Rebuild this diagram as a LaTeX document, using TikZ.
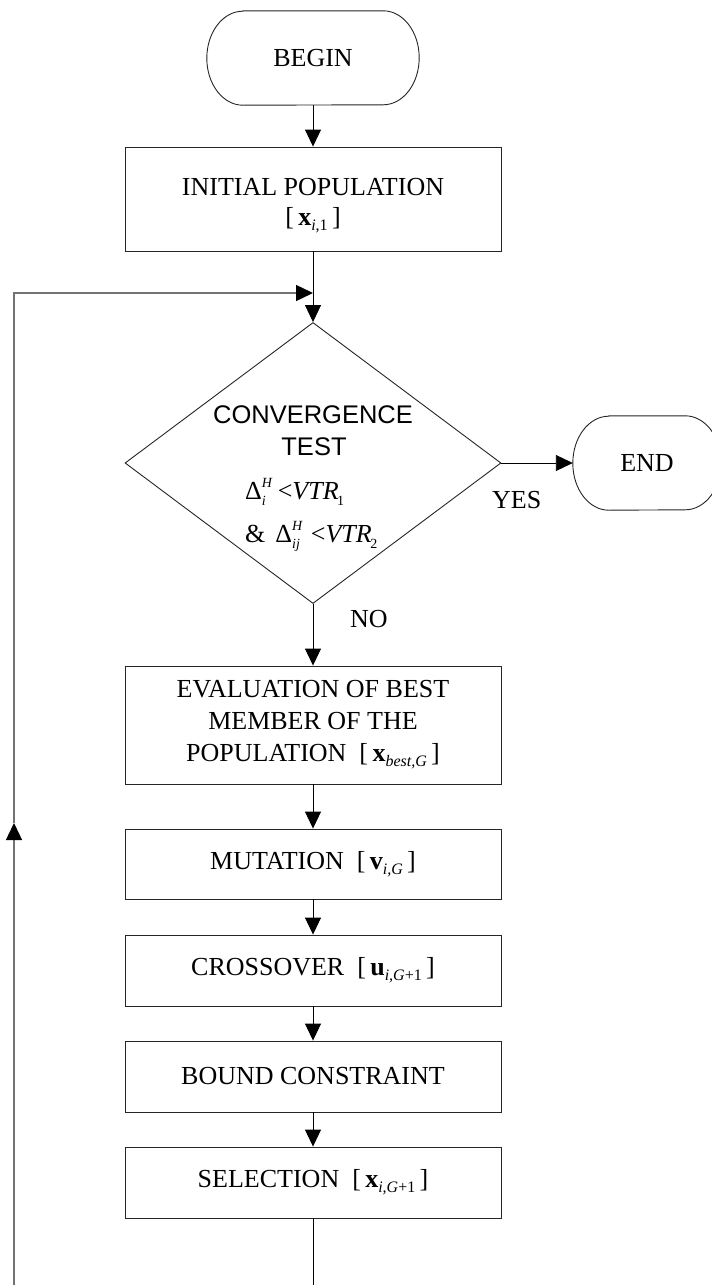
\documentclass[tikz,border=0pt]{standalone}
\usepackage{fontspec}
\setmainfont{Liberation Serif}
\newfontfamily\arialf{Liberation Sans}
\usetikzlibrary{arrows.meta,shapes.geometric}
\newcommand\mysub[1]{\raisebox{-5pt}{\fontsize{16}{16}\selectfont #1}}
\newcommand\mysup[1]{\raisebox{12pt}{\fontsize{14}{14}\selectfont #1}}
\newcommand\mysubm[1]{\raisebox{-6.5pt}{\fontsize{14}{14}\selectfont #1}}
\tikzset{
  box/.style={draw=black!85, line width=0.9pt, minimum width=376pt, inner sep=0pt, align=center, font=\fontsize{26}{32}\selectfont},
  lbl/.style={inner sep=0pt, font=\fontsize{26}{32}\selectfont},
  sanslbl/.style={inner sep=0pt, font=\arialf\fontsize{25.5}{32}\selectfont},
  flow/.style={draw=black, line width=0.9pt, -{Triangle[length=17pt,width=16pt]}},
  plain/.style={draw=black, line width=0.9pt},
  back/.style={draw=black!55, line width=1.4pt},
  backarrow/.style={back, -{Triangle[length=17pt,width=16pt,color=black]}},
  termline/.style={draw=black!85, line width=0.9pt},
}
\begin{document}
\begin{tikzpicture}[x=1pt,y=-1pt]
\clip (0,0) rectangle (712,1285);
\fill[white] (0,0) rectangle (712,1285);

% terminals
\node[lbl, minimum width=212pt, minimum height=94pt] (begin) at (313,58) {BEGIN};
\draw[termline] ([xshift=36pt]begin.north west) -- ([xshift=-36pt]begin.north east)
  arc[start angle=90,end angle=-90,x radius=36pt,y radius=47pt]
  -- ([xshift=36pt]begin.south west)
  arc[start angle=270,end angle=90,x radius=36pt,y radius=47pt] -- cycle;

\node[lbl, minimum width=148pt, minimum height=94pt] (end) at (647,463) {END};
\draw[termline] ([xshift=36pt]end.north west) -- ([xshift=-36pt]end.north east)
  arc[start angle=90,end angle=-90,x radius=36pt,y radius=47pt]
  -- ([xshift=36pt]end.south west)
  arc[start angle=270,end angle=90,x radius=36pt,y radius=47pt] -- cycle;

% process boxes
\node[box, minimum height=104pt] (init) at (313,199) {};
\node[lbl, align=center, font=\fontsize{26}{30}\selectfont] (initt) at (313,206) {INITIAL POPULATION\\{}[\,\textbf{x}\mysub{\textit{i},1}\,]};

\node[draw=black!85, line width=0.9pt, diamond, inner sep=0pt, minimum width=376pt, minimum height=281pt] (dia) at (313,463) {};
\node[sanslbl, anchor=base] (conv) at (313,423) {CONVERGENCE};
\node[sanslbl, anchor=base] (test) at (314,455) {TEST};
\node[lbl, anchor=base west] (c1) at (245,499) {Δ\rlap{\mysup{\textit{H}}}\mysubm{\textit{i}}\hspace{12pt}<\textit{VTR}\kern-1.5pt\mysubm{1}};
\node[lbl, anchor=base west] (c2) at (245,542) {\&\hspace{10pt}Δ\rlap{\mysup{\textit{H}}}\mysubm{\textit{ij}}\hspace{11pt}<\textit{VTR}\kern-1.5pt\mysubm{2}};

\node[lbl, anchor=base west] (yes) at (492,508) {YES};
\node[lbl, anchor=base west] (no) at (350,627) {NO};

\node[box, minimum height=118pt] (eval) at (313,725) {EVALUATION OF BEST\\MEMBER OF THE\\POPULATION\ \ [\,\textbf{x}\mysub{\textit{best,G}}\,]};
\node[box, minimum height=70pt] (mut) at (313,864) {MUTATION\ \ [\,\textbf{v}\mysub{\textit{i,G}}\,]};
\node[box, minimum height=71pt] (cross) at (313,970.5) {CROSSOVER\ \ [\,\textbf{u}\mysub{\textit{i,G}+1}\,]};
\node[box, minimum height=71pt] (bound) at (313,1076.5) {BOUND CONSTRAINT};
\node[box, minimum height=71pt] (sel) at (313,1182.5) {SELECTION\ \ [\,\textbf{x}\mysub{\textit{i,G}+1}\,]};

% coordinates for the loop
\coordinate (lb) at (14,1285);
\coordinate (lm) at (14,823);
\coordinate (lt) at (14,293);
\coordinate (jn) at (313,293);
\coordinate (cb) at (313,1285);

% connectors
\draw[flow] (begin.south) -- (init.north);
\draw[flow] (init.south) -- (dia.north);
\draw[flow] (dia.east) -- (end.west);
\draw[flow] (dia.south) -- (eval.north);
\draw[flow] (eval.south) -- (mut.north);
\draw[flow] (mut.south) -- (cross.north);
\draw[flow] (cross.south) -- (bound.north);
\draw[flow] (bound.south) -- (sel.north);
\draw[plain] (sel.south) -- (cb);
\draw[backarrow] (lb) -- (lm);
\draw[backarrow] (lm) -- (lt) -- (jn);
\end{tikzpicture}
\end{document}
